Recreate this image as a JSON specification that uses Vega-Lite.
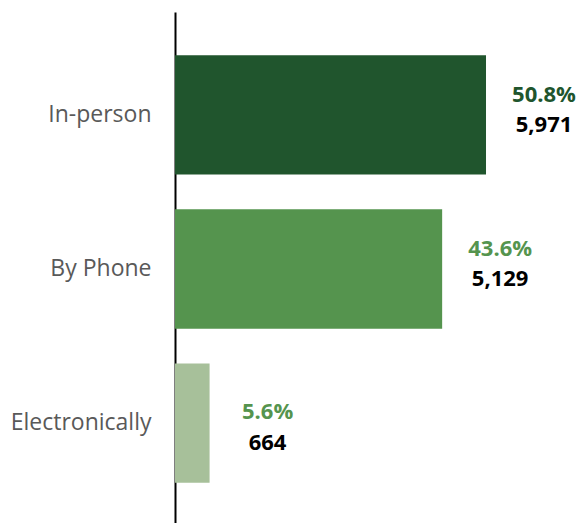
{
  "$schema": "https://vega.github.io/schema/vega-lite/v6.json",
  "width": 407,
  "height": 514,
  "autosize": {"type": "none"},
  "padding": {"left": 175, "top": 12, "right": 0, "bottom": 0},
  "config": {"view": {"stroke": null}},
  "data": {
    "values": [
      {"method": "In-person", "count": 5971, "share": 0.508},
      {"method": "By Phone", "count": 5129, "share": 0.436},
      {"method": "Electronically", "count": 664, "share": 0.056}
    ]
  },
  "encoding": {
    "y": {
      "field": "method",
      "type": "nominal",
      "sort": ["In-person", "By Phone", "Electronically"],
      "scale": {"paddingInner": 0.225, "paddingOuter": 0.28},
      "axis": {
        "title": null,
        "ticks": false,
        "labelFont": "Open Sans",
        "labelFontSize": 23,
        "labelColor": "#595959",
        "labelPadding": 24,
        "domainColor": "#000000",
        "domainWidth": 2
      }
    },
    "x": {
      "field": "count",
      "type": "quantitative",
      "scale": {"domain": [0, 7814], "nice": false, "zero": true},
      "axis": null
    }
  },
  "layer": [
    {
      "mark": {"type": "bar"},
      "encoding": {
        "color": {
          "field": "method",
          "type": "nominal",
          "scale": {"domain": ["In-person", "By Phone", "Electronically"], "range": ["#20552D", "#55944E", "#A7C09A"]},
          "legend": null
        }
      }
    },
    {
      "transform": [{"filter": "datum.method !== 'Electronically'"}],
      "mark": {"type": "text", "align": "center", "baseline": "middle", "dx": 58, "dy": -20, "font": "Open Sans", "fontSize": 22, "fontWeight": "bold"},
      "encoding": {
        "text": {"field": "share", "type": "quantitative", "format": ".1%"},
        "color": {
          "field": "method",
          "type": "nominal",
          "scale": {"domain": ["In-person", "By Phone", "Electronically"], "range": ["#20552D", "#55944E", "#55944E"]},
          "legend": null
        }
      }
    },
    {
      "transform": [{"filter": "datum.method !== 'Electronically'"}],
      "mark": {"type": "text", "align": "center", "baseline": "middle", "dx": 58, "dy": 10, "font": "Open Sans", "fontSize": 22, "fontWeight": "bold", "color": "#000000"},
      "encoding": {
        "text": {"field": "count", "type": "quantitative", "format": ","}
      }
    },
    {
      "transform": [{"filter": "datum.method === 'Electronically'"}],
      "mark": {"type": "text", "align": "center", "baseline": "middle", "dx": 58, "dy": -11, "font": "Open Sans", "fontSize": 22, "fontWeight": "bold", "color": "#55944E"},
      "encoding": {
        "text": {"field": "share", "type": "quantitative", "format": ".1%"}
      }
    },
    {
      "transform": [{"filter": "datum.method === 'Electronically'"}],
      "mark": {"type": "text", "align": "center", "baseline": "middle", "dx": 58, "dy": 20, "font": "Open Sans", "fontSize": 22, "fontWeight": "bold", "color": "#000000"},
      "encoding": {
        "text": {"field": "count", "type": "quantitative", "format": ","}
      }
    }
  ]
}
